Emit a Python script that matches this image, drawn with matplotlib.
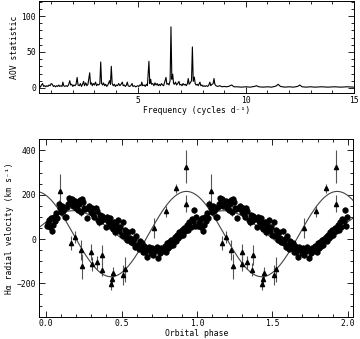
import numpy as np
import matplotlib
matplotlib.use("Agg")
import matplotlib.pyplot as plt
from matplotlib.ticker import MultipleLocator

# ---------------------
# AOV periodogram (frequency, statistic)
# ---------------------
aov_points = [
    (0.45, 3), (0.5, 1), (0.55, 4), (0.6, 6), (0.65, 2), (0.7, 3), (0.75, 1.5),
    (0.8, 3), (0.85, 2), (0.9, 4), (0.95, 3), (1.0, 6), (1.05, 5), (1.1, 2),
    (1.15, 3), (1.2, 1.5), (1.25, 3), (1.3, 2), (1.35, 4), (1.4, 2), (1.45, 3),
    (1.5, 2), (1.54, 8), (1.58, 3), (1.62, 2), (1.7, 3), (1.75, 2), (1.8, 4),
    (1.86, 10), (1.9, 4), (1.95, 5), (2.0, 2), (2.05, 4), (2.1, 3), (2.15, 5),
    (2.2, 14.5), (2.24, 4), (2.3, 3), (2.35, 6), (2.4, 2), (2.45, 5), (2.5, 9),
    (2.54, 3), (2.6, 7), (2.65, 3), (2.7, 5), (2.78, 21), (2.82, 5), (2.87, 7),
    (2.9, 3), (2.95, 6), (3.0, 4), (3.05, 8), (3.1, 3), (3.15, 5), (3.2, 4),
    (3.25, 6), (3.29, 36), (3.33, 6), (3.38, 4), (3.42, 7), (3.47, 3), (3.52, 5),
    (3.57, 2), (3.62, 4), (3.7, 10), (3.74, 5), (3.78, 30), (3.82, 6), (3.87, 3),
    (3.92, 5), (3.97, 2), (4.02, 4), (4.07, 3), (4.12, 6), (4.18, 3), (4.23, 5),
    (4.29, 8), (4.33, 3), (4.38, 4), (4.43, 2), (4.48, 4), (4.52, 8), (4.56, 3),
    (4.62, 2), (4.68, 3), (4.74, 6), (4.78, 2), (4.85, 3), (4.9, 1.5), (4.95, 2),
    (5.0, 3), (5.05, 2), (5.1, 4), (5.15, 3), (5.19, 8), (5.23, 3), (5.3, 4),
    (5.35, 2), (5.4, 5), (5.45, 3), (5.52, 37), (5.56, 6), (5.6, 12), (5.64, 5),
    (5.7, 6), (5.75, 3), (5.8, 7), (5.85, 4), (5.9, 6), (5.95, 3), (6.0, 5),
    (6.05, 3), (6.1, 6), (6.15, 4), (6.2, 3), (6.25, 8), (6.31, 14.5), (6.35, 5),
    (6.4, 6), (6.45, 4), (6.5, 10), (6.54, 85), (6.58, 12), (6.62, 19), (6.66, 6),
    (6.7, 5), (6.75, 8), (6.8, 4), (6.85, 6), (6.91, 9), (6.95, 4), (7.0, 5),
    (7.05, 3), (7.1, 6), (7.15, 4), (7.2, 5), (7.25, 3), (7.3, 6), (7.34, 13),
    (7.38, 5), (7.43, 7), (7.49, 10), (7.53, 57), (7.57, 9), (7.62, 15), (7.66, 6),
    (7.7, 4), (7.75, 5), (7.8, 3), (7.88, 8), (7.92, 3), (7.97, 4), (8.02, 2),
    (8.07, 3), (8.12, 2), (8.18, 3), (8.24, 2), (8.29, 4), (8.34, 8), (8.38, 3),
    (8.44, 5), (8.49, 6), (8.53, 13), (8.57, 5), (8.62, 3), (8.7, 2), (8.8, 3),
    (8.9, 1.5), (9.0, 2), (9.1, 1.5), (9.2, 2), (9.35, 4), (9.45, 1.5), (9.6, 1.5),
    (9.8, 1), (10.0, 1.5), (10.2, 1), (10.4, 2), (10.5, 3), (10.6, 1.5), (10.8, 1),
    (11.0, 1.5), (11.2, 1), (11.4, 2.5), (11.5, 5), (11.6, 2), (11.8, 1),
    (12.0, 1.5), (12.2, 1), (12.4, 2), (12.5, 4), (12.6, 1.5), (12.8, 1),
    (13.0, 1.5), (13.2, 1), (13.5, 1.5), (13.8, 1), (14.1, 1.5), (14.4, 1),
    (14.7, 1.5), (15.0, 1),
]

# ---------------------
# Radial velocities, phase 0-1 (phase, km/s)
# ---------------------
circ_points = [
    (0.005, 60), (0.012, 72), (0.020, 85), (0.028, 55), (0.035, 95), (0.040, 35),
    (0.046, 64), (0.053, 100), (0.060, 80), (0.068, 118), (0.075, 95), (0.082, 160),
    (0.090, 140), (0.097, 120), (0.104, 150), (0.110, 125), (0.117, 135), (0.124, 100),
    (0.131, 100), (0.138, 145), (0.146, 160), (0.153, 185), (0.160, 172), (0.168, 180),
    (0.175, 150), (0.182, 165), (0.190, 170), (0.197, 140), (0.204, 155), (0.212, 130),
    (0.218, 160), (0.223, 175), (0.230, 120), (0.238, 180), (0.245, 165), (0.252, 140),
    (0.260, 135), (0.268, 95), (0.275, 140), (0.283, 150), (0.290, 135), (0.298, 120),
    (0.305, 140), (0.313, 115), (0.320, 100), (0.328, 140), (0.335, 125), (0.343, 85),
    (0.350, 75), (0.358, 110), (0.365, 80), (0.372, 105), (0.380, 95), (0.388, 90),
    (0.395, 55), (0.402, 100), (0.410, 80), (0.418, 75), (0.425, 95), (0.433, 60),
    (0.440, 45), (0.448, 75), (0.455, 30), (0.463, 70), (0.470, 50), (0.478, 85),
    (0.485, 35), (0.492, 55), (0.500, 20), (0.508, 75), (0.515, 15), (0.522, 40),
    (0.530, 20), (0.538, -5), (0.545, 30), (0.553, 5), (0.560, -15), (0.568, 35),
    (0.575, -20), (0.583, 0), (0.590, -35), (0.598, 15), (0.605, -25), (0.613, -45),
    (0.620, -10), (0.628, -35), (0.635, -20), (0.643, -60), (0.650, -30), (0.658, -60),
    (0.665, -40), (0.672, -80), (0.680, -35), (0.688, -50), (0.695, -65), (0.703, -40),
    (0.710, -70), (0.718, -45), (0.725, -55), (0.733, -35), (0.740, -85), (0.748, -50),
    (0.755, -65), (0.763, -40), (0.770, -55), (0.778, -45), (0.785, -30), (0.793, -60),
    (0.800, -20), (0.808, -40), (0.815, -15), (0.823, -30), (0.830, -5), (0.838, -25),
    (0.845, 0), (0.853, 10), (0.860, -10), (0.868, 20), (0.875, 5), (0.883, 30),
    (0.890, 15), (0.898, 40), (0.905, 20), (0.913, 50), (0.920, 35), (0.928, 45),
    (0.935, 65), (0.943, 40), (0.950, 75), (0.958, 55), (0.965, 90), (0.973, 80),
    (0.980, 130), (0.988, 60), (0.995, 100),
]
circ_err = 14

# triangles: (phase, velocity, error)
tri_points = [
    (0.093, 215, 80), (0.163, -18, 30), (0.193, 10, 28), (0.228, -48, 45),
    (0.236, -123, 55), (0.296, -58, 35), (0.302, -112, 30), (0.335, -105, 30),
    (0.367, -138, 28), (0.373, -73, 45), (0.430, -202, 30), (0.436, -178, 25),
    (0.442, -152, 25), (0.509, -163, 45), (0.525, -137, 55), (0.712, 50, 45),
    (0.792, 125, 25), (0.858, 230, 20), (0.925, 327, 75), (0.925, 160, 40),
]

# sine fits: (gamma, K, phase of maximum)
fit_tri = (22.5, 192.5, 0.93)
fit_circ = (40.0, 88.0, 0.18)

plt.rcParams["font.family"] = ["DejaVu Sans Mono"]
plt.rcParams["font.size"] = 5.8


def style(ax):
    ax.tick_params(which="both", direction="in", top=True, right=True, width=0.6, pad=2)
    ax.tick_params(which="major", length=4)
    ax.tick_params(which="minor", length=2)
    for s in ax.spines.values():
        s.set_linewidth(0.7)


fig = plt.figure(figsize=(3.6, 3.39), dpi=100)

# ---------------------
# Periodogram
# ---------------------
ax1 = fig.add_axes([0.108, 0.726, 0.875, 0.271])
freq = np.array([p[0] for p in aov_points])
stat = np.array([p[1] for p in aov_points])
ax1.plot(freq, stat, color="black", lw=0.8)
ax1.set_xlim(0.43, 15)
ax1.set_ylim(-7, 121)
ax1.xaxis.set_major_locator(MultipleLocator(5))
ax1.xaxis.set_minor_locator(MultipleLocator(1))
ax1.yaxis.set_major_locator(MultipleLocator(50))
ax1.yaxis.set_minor_locator(MultipleLocator(10))
ax1.set_xlabel("Frequency (cycles d⁻¹)", labelpad=1)
ax1.set_ylabel("AOV statistic", labelpad=2)
style(ax1)

# ---------------------
# Radial velocity curve
# ---------------------
ax2 = fig.add_axes([0.109, 0.066, 0.872, 0.523])
cph = np.array([p[0] for p in circ_points])
cv = np.array([p[1] for p in circ_points])
tph = np.array([p[0] for p in tri_points])
tv = np.array([p[1] for p in tri_points])
te = np.array([p[2] for p in tri_points])

for shift in (0, 1):
    ax2.errorbar(cph + shift, cv, yerr=circ_err, fmt="o", ms=3.5, color="black",
                 ecolor="#333333", elinewidth=0.6, capsize=0)
    ax2.errorbar(tph + shift, tv, yerr=te, fmt="^", ms=3.0, color="black",
                 ecolor="#555555", elinewidth=0.8, capsize=0)

ph = np.linspace(-0.1, 2.1, 500)
for g, k, p0 in (fit_tri, fit_circ):
    ax2.plot(ph, g + k * np.cos(2 * np.pi * (ph - p0)), color="#444444", lw=0.8)

ax2.set_xlim(-0.046, 2.036)
ax2.set_ylim(-350, 450)
ax2.xaxis.set_major_locator(MultipleLocator(0.5))
ax2.xaxis.set_minor_locator(MultipleLocator(0.1))
ax2.yaxis.set_major_locator(MultipleLocator(200))
ax2.yaxis.set_minor_locator(MultipleLocator(50))
ax2.set_xlabel("Orbital phase", labelpad=0.5)
ax2.set_ylabel("Hα radial velocity (km s⁻¹)", labelpad=2)
style(ax2)

fig.savefig("out.png", dpi=100)
